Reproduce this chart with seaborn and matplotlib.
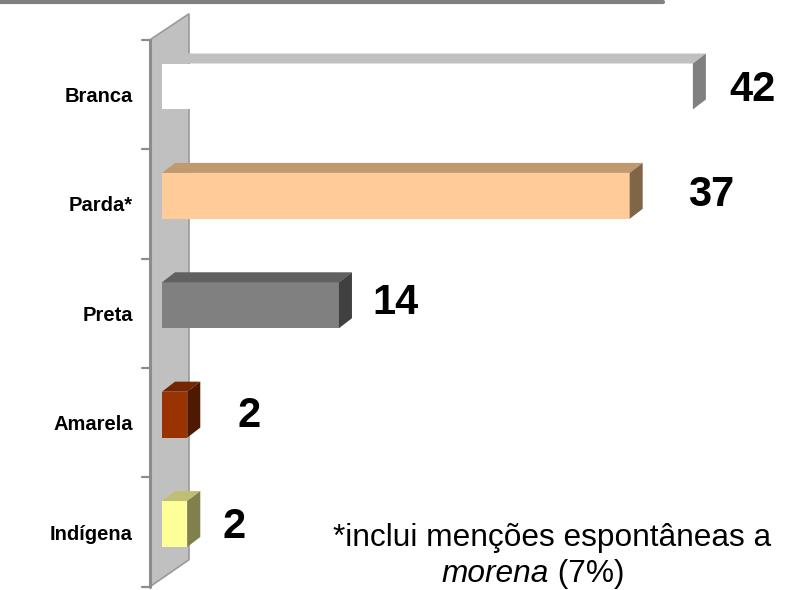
import numpy as np
import pandas as pd
import matplotlib
matplotlib.use("Agg")
import matplotlib.pyplot as plt
import seaborn as sns
from matplotlib.patches import Polygon, Rectangle
from matplotlib.lines import Line2D
from matplotlib.transforms import IdentityTransform, ScaledTranslation

# data
categories = ["Branca", "Parda*", "Preta", "Amarela", "Indígena"]
values = [42, 37, 14, 2, 2]
front_colors = ["#FFFFFF", "#FFCC99", "#808080", "#993300", "#FFFF99"]
top_colors = ["#C0C0C0", "#C09970", "#606060", "#732600", "#BFBF73"]
side_colors = ["#808080", "#806648", "#404040", "#4D1A00", "#80804D"]
label_dx = [36, 58, 33, 50, 35]      # px, value label offset from bar end
label_dy = [1, 5, 7, 3, 2]           # px, value label lift

sns.set_style("white")
plt.rcParams["font.family"] = ["Liberation Sans", "DejaVu Sans"]

W, H, DPI = 786, 590, 100
fig = plt.figure(figsize=(W / DPI, H / DPI), dpi=DPI)
px_per_unit = 12.64
ax_top, ax_bot = 31.8, 578.7
ax = fig.add_axes([162 / W, 1 - ax_bot / H, 48 * px_per_unit / W, (ax_bot - ax_top) / H])

df = pd.DataFrame({"categoria": categories, "pct": values})
sns.barplot(data=df, x="pct", y="categoria", hue="categoria", palette=front_colors,
            saturation=1, orient="h", width=0.42, legend=False, linewidth=0,
            ax=ax, zorder=3)
bars = [p for p in ax.patches if isinstance(p, Rectangle)]
bars.sort(key=lambda p: p.get_y())

ax.set_xlim(0, 48)
ax.set_ylim(len(categories) - 0.5, -0.5)
ax.set_xlabel("")
ax.set_ylabel("")
ax.set_xticks([])
sns.despine(ax=ax, left=True, bottom=True)
ax.tick_params(axis="y", length=0, pad=21)
for lab in ax.get_yticklabels():
    lab.set_fontsize(14.5)
    lab.set_fontweight("bold")
    lab.set_color("black")
    lab.set_transform(lab.get_transform() + ScaledTranslation(0, -8 / DPI, fig.dpi_scale_trans))

fig.canvas.draw()
to_disp = ax.transData.transform

# side wall of the 3D chart
x0 = to_disp((0, 0))[0]
yt = to_disp((0, -0.5))[1]
yb = to_disp((0, len(categories) - 0.5))[1]
wall = [(x0 - 12, yt - 8), (x0 + 27, yt + 18), (x0 + 27, yb + 19), (x0 - 12, yb - 8)]
ax.add_patch(Polygon(wall, closed=True, facecolor="#C0C0C0", edgecolor="#9A9A9A",
                     linewidth=1.2, transform=IdentityTransform(), clip_on=False, zorder=1))
ax.add_line(Line2D([x0 - 12, x0 - 12], [yt - 8, yb - 8], color="#8C8C8C", linewidth=2.2,
                   transform=IdentityTransform(), clip_on=False, zorder=1.5))
for b in np.arange(-0.5, len(categories), 1.0):
    ty = to_disp((0, b))[1] - 8
    ax.add_line(Line2D([x0 - 20, x0 - 12], [ty, ty], color="#8C8C8C", linewidth=1.6,
                       transform=IdentityTransform(), clip_on=False, zorder=1.5))

# depth faces of the bars
dx, dy = 13, 10
for i, bar in enumerate(bars):
    bx, by, bw, bh = bar.get_x(), bar.get_y(), bar.get_width(), bar.get_height()
    (xl, y1), (xr, y2) = to_disp([(bx, by), (bx + bw, by + bh)])
    ytop, ybot = max(y1, y2), min(y1, y2)
    top = [(xl, ytop), (xr, ytop), (xr + dx, ytop + dy), (xl + dx, ytop + dy)]
    side = [(xr, ybot), (xr, ytop), (xr + dx, ytop + dy), (xr + dx, ybot + dy)]
    ax.add_patch(Polygon(top, closed=True, facecolor=top_colors[i], edgecolor="none",
                         transform=IdentityTransform(), clip_on=False, zorder=3))
    ax.add_patch(Polygon(side, closed=True, facecolor=side_colors[i], edgecolor="none",
                         transform=IdentityTransform(), clip_on=False, zorder=3))

# value labels
for i, v in enumerate(values):
    ax.annotate(str(v), xy=(v, i), xytext=(label_dx[i] * 0.72, label_dy[i] * 0.72),
                textcoords="offset points", ha="left", va="center_baseline",
                fontsize=30, fontweight="bold", color="black", annotation_clip=False)

# top rule
fig.add_artist(Line2D([0, 663 / W], [1 - 1.8 / H, 1 - 1.8 / H], color="#808080",
                      linewidth=3, transform=fig.transFigure))

# footnote
fig.text(552 / W, 1 - 546 / H, "*inclui menções espontâneas a", ha="center",
         va="baseline", fontsize=22.8, color="black")
fig.text(549 / W, 1 - 582 / H, "morena", ha="right", va="baseline",
         fontsize=22.8, fontstyle="italic", color="black")
fig.text(549 / W, 1 - 582 / H, " (7%)", ha="left", va="baseline",
         fontsize=22.8, color="black")

fig.savefig("out.png", dpi=DPI)
